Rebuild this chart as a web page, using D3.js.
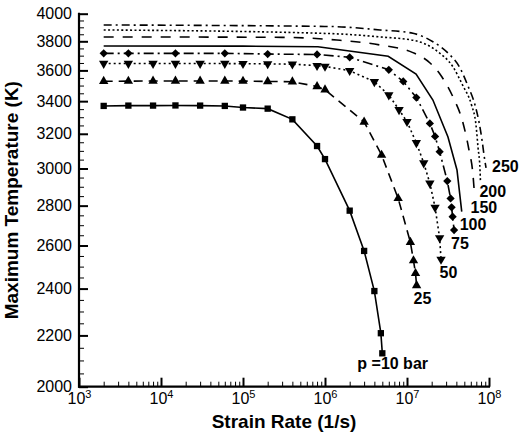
<!DOCTYPE html>
<html>
<head>
<meta charset="utf-8">
<script src="https://cdn.jsdelivr.net/npm/d3@7"></script>
<style>
  html, body { margin: 0; padding: 0; background: #fff; }
  svg { display: block; font-family: "Liberation Sans", Arial, Helvetica, sans-serif; }
</style>
</head>
<body>
<svg id="chart" width="528" height="438"></svg>
<script>
// Strain rates (1/s) and peak temperatures (K) for each pressure
const strain10 = [2e3, 4e3, 8e3, 1.5e4, 3e4, 6e4, 1e5, 2e5, 4e5, 8e5, 1e6, 2e6, 3e6, 4e6, 4.8e6, 5e6];
const temp10   = [3370, 3372, 3372, 3373, 3372, 3370, 3360, 3353, 3287, 3128, 3053, 2774, 2574, 2389, 2209, 2128];

const strain25 = [2e3, 4e3, 8e3, 1.5e4, 3e4, 6e4, 1e5, 2e5, 4e5, 8e5, 1e6, 3e6, 4.9e6, 7.8e6, 1.1e7, 1.2e7, 1.27e7, 1.31e7];
const temp25   = [3528, 3529, 3530, 3530, 3530, 3530, 3529, 3527, 3525, 3494, 3473, 3271, 3076, 2838, 2616, 2528, 2469, 2414];

const strain50 = [2e3, 4e3, 8e3, 1.5e4, 3e4, 6e4, 1e5, 2e5, 4e5, 8e5, 1e6, 2e6, 4e6, 6e6, 8e6, 1e7, 1.3e7, 1.6e7, 1.9e7, 2.2e7, 2.5e7, 2.6e7];
const temp50   = [3646, 3646, 3646, 3646, 3646, 3646, 3645, 3644, 3642, 3632, 3627, 3598, 3525, 3439, 3346, 3273, 3147, 3031, 2919, 2791, 2637, 2534];

const strain75 = [2e3, 4e3, 1.5e4, 6e4, 2e5, 8e5, 2e6, 6e6, 9e6, 1.3e7, 1.9e7, 2.2e7, 2.5e7, 3.1e7, 3.4e7, 3.5e7, 3.6e7, 3.75e7];
const temp75   = [3716, 3716, 3716, 3716, 3711, 3708, 3689, 3604, 3527, 3423, 3262, 3184, 3095, 2931, 2838, 2791, 2743, 2676];

const strain100 = [2e3, 1e5, 8.2e5, 5.9e6, 1.29e7, 2.07e7, 3.16e7, 4.07e7, 4.65e7];
const temp100   = [3767, 3766, 3762, 3696, 3576, 3407, 3181, 2992, 2769];

const strain150 = [2e3, 3e5, 1.39e6, 4.69e6, 1.18e7, 1.91e7, 2.67e7, 3.64e7, 4.82e7, 5.7e7, 6.38e7, 6.66e7];
const temp150   = [3831, 3828, 3809, 3774, 3721, 3650, 3556, 3426, 3265, 3105, 2964, 2856];

const strain200 = [2e3, 1.15e6, 4.69e6, 1.22e7, 2.32e7, 3.64e7, 4.82e7, 6.12e7, 6.94e7, 7.34e7, 7.77e7, 7.87e7];
const temp200   = [3881, 3855, 3831, 3806, 3732, 3623, 3497, 3376, 3253, 3122, 2992, 2926];

const strain250 = [2e3, 1.15e6, 4.69e6, 1.18e7, 2.07e7, 3.16e7, 4.43e7, 5.54e7, 6.75e7, 7.55e7, 8.22e7, 8.7e7, 9.2e7];
const temp250   = [3917, 3906, 3881, 3857, 3797, 3718, 3616, 3497, 3376, 3271, 3163, 3076, 3003];

const seriesLabels = ["p =10 bar", "25", "50", "75", "100", "150", "200", "250"];

// Axis ticks
const xTickValues = [1e3, 1e4, 1e5, 1e6, 1e7, 1e8];
const yTickValues = [2000, 2200, 2400, 2600, 2800, 3000, 3200, 3400, 3600, 3800, 4000];

const margin = { top: 13.7, right: 39, bottom: 51.3, left: 79 };
const W = 528, H = 438;

const svg = d3.select("#chart");

const x = d3.scaleLog().domain([1e3, 1e8]).range([margin.left, W - margin.right]);
const y = d3.scaleLog().domain([2000, 4000]).range([H - margin.bottom, margin.top]);

// Line styles per series: dash pattern, marker shape, curve
const styles = [
  { dash: null,          marker: "square",  curve: d3.curveLinear },
  { dash: "9,6",         marker: "triUp",   curve: d3.curveLinear },
  { dash: "2,3",         marker: "triDown", curve: d3.curveLinear },
  { dash: "10,4,2,4",    marker: "diamond", curve: d3.curveLinear },
  { dash: null,          marker: null,      curve: d3.curveLinear },
  { dash: "10,9",        marker: null,      curve: d3.curveMonotoneX },
  { dash: "2,2.4",       marker: null,      curve: d3.curveMonotoneX },
  { dash: "8,4,2,4",     marker: null,      curve: d3.curveMonotoneX }
];

// Label placement relative to the last point of each curve (pixels)
const labelOffsets = [[-25, 16], [-3, 18.5], [-1.5, 19], [-3, 19], [-2, 18.5], [-4, 18.5], [-1, 15], [6, 4]];

const allStrain = [strain10, strain25, strain50, strain75, strain100, strain150, strain200, strain250];
const allTemp   = [temp10, temp25, temp50, temp75, temp100, temp150, temp200, temp250];

const series = allStrain.map((s, i) => ({
  label: seriesLabels[i],
  points: s.map((v, j) => ({ s: v, t: allTemp[i][j] })),
  style: styles[i],
  offset: labelOffsets[i]
}));

// ---- Axes ----
const fmtExp = d => Math.round(Math.log10(d));

// y minor ticks every 50 K
const yMinor = d3.range(2050, 4000, 50).filter(v => v % 200 !== 0);
svg.append("g")
  .attr("transform", `translate(${margin.left},0)`)
  .call(d3.axisLeft(y).tickValues(yMinor).tickSize(-5).tickFormat(""))
  .call(g => g.select(".domain").remove())
  .call(g => g.selectAll(".tick line").attr("stroke", "#000").attr("stroke-width", 1));

const yAxis = svg.append("g")
  .attr("transform", `translate(${margin.left},0)`)
  .call(d3.axisLeft(y).tickValues(yTickValues).tickSize(-9).tickPadding(7).tickFormat(d3.format("d")));
yAxis.select(".domain").remove();
yAxis.selectAll(".tick line").attr("stroke", "#000").attr("stroke-width", 2);
yAxis.selectAll(".tick text").attr("font-size", "16px").attr("fill", "#000")
  .attr("font-family", "'Liberation Sans', Arial, sans-serif");

// x minor ticks 2..9 per decade
const xMinor = [];
for (let e = 3; e < 8; e++) for (let k = 2; k <= 9; k++) xMinor.push(k * Math.pow(10, e));
svg.append("g")
  .attr("transform", `translate(0,${H - margin.bottom})`)
  .call(d3.axisBottom(x).tickValues(xMinor).tickSize(-5).tickFormat(""))
  .call(g => g.select(".domain").remove())
  .call(g => g.selectAll(".tick line").attr("stroke", "#000").attr("stroke-width", 1));

const xAxis = svg.append("g")
  .attr("transform", `translate(0,${H - margin.bottom})`)
  .call(d3.axisBottom(x).tickValues(xTickValues).tickSize(-9).tickPadding(6).tickFormat(""));
xAxis.select(".domain").remove();
xAxis.selectAll(".tick line").attr("stroke", "#000").attr("stroke-width", 2);
xAxis.selectAll(".tick text").each(function (d) {
  const t = d3.select(this)
    .attr("font-size", "16px").attr("fill", "#000")
    .attr("font-family", "'Liberation Sans', Arial, sans-serif")
    .attr("dy", "0.71em");
  t.append("tspan").text("10");
  t.append("tspan").attr("dy", "-0.55em").attr("font-size", "11px").text(fmtExp(d));
});

// axis lines
svg.append("line")
  .attr("x1", margin.left).attr("x2", margin.left)
  .attr("y1", y(4000) - 1).attr("y2", y(2000) + 1)
  .attr("stroke", "#000").attr("stroke-width", 2.2);
svg.append("line")
  .attr("x1", margin.left - 1).attr("x2", x(1e8) + 1)
  .attr("y1", y(2000)).attr("y2", y(2000))
  .attr("stroke", "#000").attr("stroke-width", 2.2);

// axis titles
svg.append("text")
  .attr("x", (x(1e3) + x(1e8)) / 2).attr("y", 428)
  .attr("text-anchor", "middle")
  .attr("font-size", "19px").attr("font-weight", "bold")
  .text("Strain Rate (1/s)");

svg.append("text")
  .attr("transform", `translate(18,${(y(2000) + y(4000)) / 2}) rotate(-90)`)
  .attr("text-anchor", "middle")
  .attr("font-size", "19px").attr("font-weight", "bold")
  .text("Maximum Temperature (K)");

// ---- Curves ----
const plot = svg.append("g");

series.forEach(sr => {
  const line = d3.line().x(d => x(d.s)).y(d => y(d.t)).curve(sr.style.curve);
  plot.append("path")
    .datum(sr.points)
    .attr("d", line)
    .attr("fill", "none")
    .attr("stroke", "#000")
    .attr("stroke-width", 1.6)
    .attr("stroke-dasharray", sr.style.dash);

  if (sr.style.marker) {
    const m = sr.style.marker;
    let sym, rot = 0, size;
    if (m === "square") { sym = d3.symbolSquare; size = 40; }
    else if (m === "triUp") { sym = d3.symbolTriangle; size = 38; }
    else if (m === "triDown") { sym = d3.symbolTriangle; size = 38; rot = 180; }
    else { sym = d3.symbolSquare; size = 34; rot = 45; }
    const gen = d3.symbol().type(sym).size(size);
    plot.selectAll(null)
      .data(sr.points)
      .join("path")
      .attr("d", gen)
      .attr("transform", d => `translate(${x(d.s)},${y(d.t)}) rotate(${rot})`)
      .attr("fill", "#000");
  }

  const last = sr.points[sr.points.length - 1];
  plot.append("text")
    .attr("x", x(last.s) + sr.offset[0])
    .attr("y", y(last.t) + sr.offset[1])
    .attr("font-size", "16px").attr("font-weight", "bold")
    .text(sr.label);
});
</script>
</body>
</html>
